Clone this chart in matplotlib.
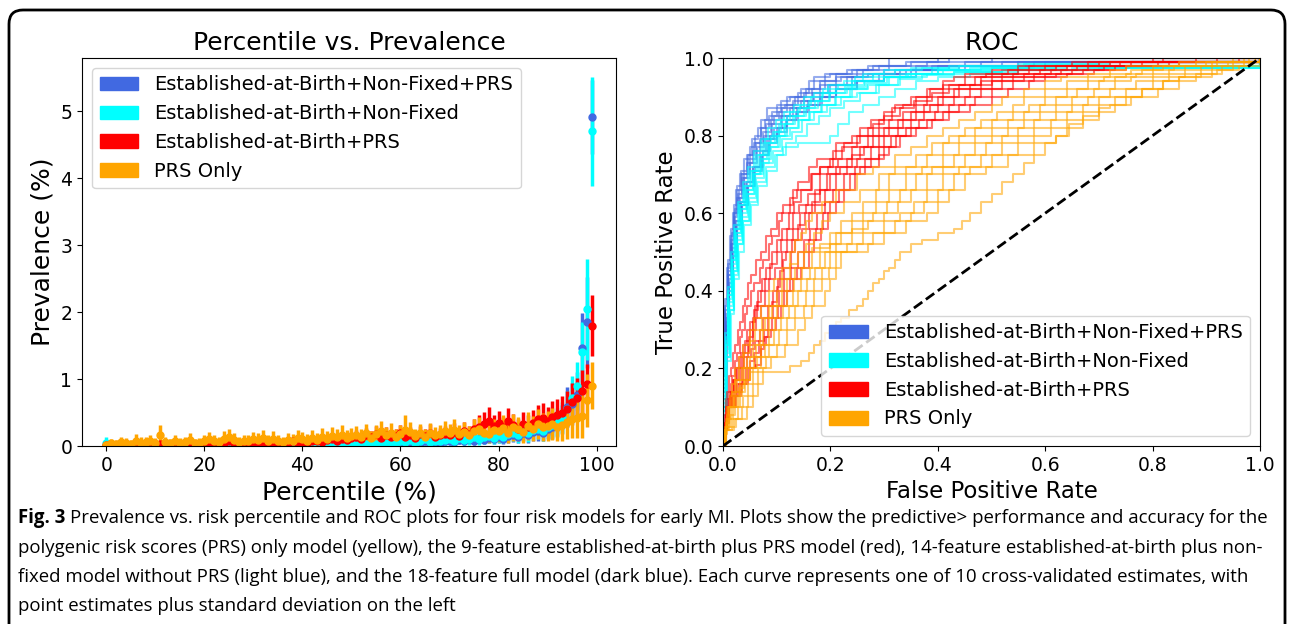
import matplotlib
matplotlib.use("Agg")
import matplotlib.pyplot as plt
from matplotlib.patches import Patch, FancyBboxPatch
from matplotlib.transforms import IdentityTransform

# model names / colours
models = ["Established-at-Birth+Non-Fixed+PRS", "Established-at-Birth+Non-Fixed",
          "Established-at-Birth+PRS", "PRS Only"]
colors = ["royalblue", "cyan", "red", "orange"]

# percentile vs prevalence (mean and std, percent), percentiles 0..99
percentile = list(range(100))
blue_mean = [.00, .00, .01, .00, .00, .00, .01, .00, .00, .01,
             .00, .00, .01, .00, .00, .00, .01, .00, .00, .00,
             .00, .01, .00, .00, .01, .00, .00, .01, .00, .00,
             .01, .00, .00, .01, .00, .01, .00, .00, .01, .00,
             .01, .01, .00, .01, .02, .01, .02, .01, .02, .01,
             .02, .01, .03, .02, .03, .02, .04, .03, .02, .04,
             .05, .04, .06, .03, .05, .07, .04, .06, .05, .07,
             .07, .06, .09, .08, .10, .08, .11, .09, .12, .10,
             .13, .11, .15, .17, .14, .19, .16, .21, .22, .20,
             .25, .28, .33, .40, .58, .63, .76, 1.46, 1.85, 4.92]
blue_std = [.01, .01, .01, .01, .01, .01, .01, .01, .01, .01,
            .01, .01, .01, .01, .01, .01, .01, .01, .01, .01,
            .01, .01, .01, .01, .01, .01, .01, .01, .01, .01,
            .01, .01, .01, .01, .01, .01, .01, .01, .01, .01,
            .01, .01, .01, .01, .02, .01, .02, .01, .02, .01,
            .02, .01, .03, .02, .03, .02, .03, .03, .02, .03,
            .04, .03, .04, .03, .04, .05, .03, .04, .04, .05,
            .05, .05, .06, .06, .07, .06, .07, .06, .08, .07,
            .09, .08, .10, .11, .09, .12, .11, .13, .14, .13,
            .15, .17, .19, .22, .30, .31, .35, .52, .68, .55]
cyan_mean = [.05, .00, .01, .00, .00, .01, .00, .00, .01, .00,
             .00, .01, .00, .00, .01, .00, .00, .01, .00, .00,
             .01, .00, .00, .01, .00, .01, .00, .00, .01, .00,
             .01, .00, .01, .00, .01, .01, .00, .01, .00, .01,
             .01, .02, .01, .02, .01, .02, .03, .02, .03, .02,
             .03, .02, .04, .03, .05, .03, .04, .06, .04, .05,
             .08, .06, .09, .05, .07, .10, .06, .08, .07, .09,
             .10, .08, .12, .09, .11, .14, .10, .13, .15, .12,
             .16, .14, .18, .20, .16, .22, .19, .24, .26, .23,
             .28, .32, .36, .42, .55, .72, .90, 1.40, 2.04, 4.70]
cyan_std = [.08, .01, .02, .01, .01, .02, .01, .01, .02, .01,
            .01, .02, .01, .01, .02, .01, .01, .02, .01, .01,
            .02, .01, .01, .02, .01, .02, .01, .01, .02, .01,
            .02, .01, .02, .01, .02, .02, .01, .02, .01, .02,
            .02, .03, .02, .03, .02, .03, .04, .03, .04, .03,
            .04, .03, .05, .04, .05, .04, .05, .06, .05, .05,
            .07, .06, .08, .05, .06, .08, .06, .07, .06, .08,
            .08, .07, .09, .08, .09, .10, .08, .10, .11, .09,
            .11, .10, .12, .13, .11, .14, .13, .15, .16, .15,
            .17, .19, .21, .23, .27, .32, .36, .45, .75, .82]
red_mean = [.01, .02, .01, .02, .03, .01, .04, .02, .05, .03,
            .02, .03, .05, .02, .03, .01, .04, .02, .03, .02,
            .04, .06, .03, .05, .04, .07, .05, .03, .06, .04,
            .05, .04, .06, .03, .05, .06, .04, .05, .07, .05,
            .06, .05, .08, .07, .06, .09, .10, .08, .11, .09,
            .12, .14, .11, .16, .13, .18, .12, .17, .14, .15,
            .19, .14, .17, .12, .18, .15, .20, .13, .16, .18,
            .16, .21, .15, .22, .18, .25, .29, .33, .38, .30,
            .34, .28, .37, .31, .26, .33, .29, .35, .40, .42,
            .38, .44, .46, .50, .55, .65, .72, .82, .93, 1.80]
red_std = [.03, .04, .03, .04, .04, .03, .05, .04, .06, .04,
           .04, .04, .06, .04, .04, .03, .05, .04, .04, .04,
           .05, .06, .04, .06, .05, .07, .06, .04, .06, .05,
           .06, .05, .06, .04, .06, .06, .05, .06, .07, .06,
           .06, .06, .08, .07, .06, .08, .09, .08, .10, .08,
           .09, .10, .08, .11, .09, .12, .09, .12, .10, .11,
           .13, .10, .12, .09, .12, .11, .13, .10, .11, .12,
           .11, .14, .11, .14, .12, .15, .17, .18, .20, .17,
           .19, .16, .20, .17, .15, .18, .17, .19, .21, .22,
           .21, .23, .24, .25, .27, .29, .30, .32, .30, .45]
orange_mean = [.02, .04, .03, .06, .05, .03, .08, .05, .06, .07,
               .05, .17, .06, .04, .07, .05, .06, .09, .04, .05,
               .07, .10, .08, .06, .11, .13, .09, .06, .08, .07,
               .10, .09, .12, .08, .11, .07, .06, .09, .08, .12,
               .10, .08, .12, .09, .14, .11, .15, .13, .16, .12,
               .15, .17, .14, .19, .12, .18, .22, .16, .20, .14,
               .18, .24, .21, .15, .19, .14, .20, .16, .18, .22,
               .19, .24, .18, .21, .17, .23, .26, .20, .18, .24,
               .22, .27, .19, .28, .25, .21, .30, .26, .33, .29,
               .30, .33, .28, .31, .36, .40, .42, .45, .68, .90]
orange_std = [.05, .07, .06, .08, .07, .06, .10, .08, .08, .09,
              .07, .15, .08, .07, .09, .07, .08, .10, .07, .07,
              .09, .11, .09, .08, .11, .12, .10, .08, .09, .09,
              .11, .10, .12, .09, .11, .09, .08, .10, .10, .12,
              .11, .10, .12, .10, .13, .11, .14, .12, .15, .12,
              .12, .13, .11, .14, .10, .14, .16, .12, .15, .11,
              .13, .22, .15, .11, .14, .11, .15, .12, .13, .16,
              .14, .17, .13, .15, .13, .17, .18, .15, .13, .17,
              .16, .19, .14, .20, .18, .16, .21, .19, .23, .21,
              .22, .24, .21, .23, .26, .28, .30, .33, .40, .35]

# ROC curves: 10 cross-validated folds per model, (fpr, tpr) corner points
roc_blue = [
    ([0, 0, .004, .008, .013, .018, .024, .031, .04, .05, .06, .07, .082, .1, .12, .14, .16, .19, .23, .27, .31, 1],
     [0, .18, .36, .46, .54, .6, .66, .7, .74, .77, .8, .84, .87, .88, .9, .91, .94, .96, .97, .98, 1, 1]),
    ([0, 0, .005, .009, .014, .02, .027, .035, .045, .055, .068, .08, .095, .11, .13, .15, .18, .21, .25, .3, .36, .45, 1],
     [0, .15, .33, .44, .52, .59, .64, .69, .73, .76, .79, .83, .85, .87, .89, .91, .93, .95, .96, .97, .98, .99, 1]),
    ([0, 0, .004, .01, .016, .022, .03, .04, .05, .062, .075, .09, .105, .12, .14, .165, .19, .22, .26, .31, .38, .5, 1],
     [0, .22, .35, .47, .55, .61, .66, .7, .74, .78, .81, .84, .86, .88, .9, .92, .94, .95, .97, .98, .99, 1, 1]),
    ([0, 0, .006, .011, .017, .024, .033, .043, .055, .068, .08, .095, .11, .13, .15, .17, .2, .24, .28, .33, .4, .55, 1],
     [0, .12, .3, .42, .5, .57, .63, .68, .72, .76, .79, .82, .85, .87, .89, .9, .93, .95, .96, .97, .98, .99, 1]),
    ([0, 0, .005, .01, .015, .021, .028, .036, .046, .058, .07, .085, .1, .115, .135, .155, .18, .21, .25, .29, .35, .42, 1],
     [0, .2, .34, .45, .53, .6, .65, .7, .75, .78, .82, .85, .87, .88, .9, .92, .94, .96, .97, .98, .99, 1, 1]),
    ([0, 0, .007, .012, .018, .026, .035, .046, .058, .072, .086, .1, .12, .14, .16, .185, .21, .25, .3, .36, .45, .6, 1],
     [0, .1, .28, .4, .49, .56, .62, .67, .71, .75, .78, .81, .84, .86, .88, .9, .92, .94, .95, .97, .98, .99, 1]),
    ([0, 0, .004, .009, .014, .02, .026, .034, .044, .054, .066, .078, .092, .108, .125, .145, .17, .2, .24, .28, .34, .4, 1],
     [0, .25, .38, .48, .56, .62, .67, .71, .75, .79, .82, .84, .86, .89, .9, .92, .95, .96, .97, .98, .99, 1, 1]),
    ([0, 0, .006, .012, .019, .027, .036, .047, .06, .074, .088, .104, .12, .138, .158, .18, .21, .245, .29, .34, .42, .52, 1],
     [0, .14, .3, .41, .5, .57, .62, .67, .72, .76, .8, .82, .85, .87, .89, .91, .93, .94, .96, .97, .98, .99, 1]),
    ([0, 0, .005, .01, .016, .023, .031, .04, .051, .063, .077, .092, .108, .125, .145, .168, .195, .23, .27, .32, .39, .48, 1],
     [0, .17, .32, .44, .52, .58, .64, .69, .73, .77, .8, .83, .85, .87, .89, .91, .93, .95, .96, .97, .98, .99, 1]),
    ([0, 0, .005, .011, .017, .025, .034, .044, .056, .07, .084, .1, .118, .136, .156, .18, .21, .25, .3, .35, .44, .58, 1],
     [0, .16, .31, .43, .51, .58, .63, .68, .72, .75, .79, .82, .84, .86, .88, .9, .92, .94, .96, .97, .98, .99, 1]),
]
roc_cyan = [
    ([0, 0, .005, .01, .016, .022, .03, .04, .05, .062, .075, .09, .105, .12, .14, .16, .185, .21, .24, .28, .33, .4, .5, .62, .8, 1],
     [0, .12, .27, .39, .48, .56, .62, .67, .71, .75, .78, .8, .83, .85, .87, .89, .91, .92, .94, .95, .96, .97, .975, .98, .98, 1]),
    ([0, 0, .006, .012, .019, .027, .036, .047, .06, .074, .09, .106, .124, .142, .162, .185, .21, .24, .27, .31, .36, .43, .52, .65, 1],
     [0, .1, .24, .36, .45, .53, .59, .65, .7, .74, .77, .8, .82, .84, .86, .88, .9, .92, .93, .95, .96, .965, .97, .975, 1]),
    ([0, 0, .004, .009, .015, .021, .028, .037, .047, .058, .07, .084, .098, .114, .132, .15, .17, .195, .225, .26, .3, .35, .42, .55, .7, 1],
     [0, .14, .29, .41, .5, .57, .63, .68, .72, .76, .79, .82, .84, .86, .88, .9, .91, .93, .94, .96, .97, .975, .98, .985, .99, 1]),
    ([0, 0, .006, .013, .02, .028, .038, .05, .064, .08, .096, .112, .14, .2, .215, .235, .26, .29, .32, .36, .4, .46, .55, .7, 1],
     [0, .09, .23, .35, .44, .52, .58, .63, .68, .72, .75, .77, .78, .8, .83, .86, .88, .9, .92, .94, .95, .96, .97, .975, 1]),
    ([0, 0, .005, .011, .017, .024, .033, .043, .055, .068, .082, .097, .113, .13, .15, .172, .198, .228, .262, .3, .345, .4, .48, .6, 1],
     [0, .11, .26, .38, .47, .55, .61, .66, .7, .74, .78, .81, .83, .85, .87, .89, .91, .93, .94, .95, .96, .97, .975, .98, 1]),
    ([0, 0, .007, .014, .021, .03, .04, .052, .066, .082, .1, .118, .136, .156, .178, .2, .226, .255, .29, .33, .38, .45, .55, .7, 1],
     [0, .08, .22, .34, .43, .5, .57, .62, .67, .71, .75, .78, .8, .83, .85, .87, .89, .91, .93, .95, .96, .965, .97, .975, 1]),
    ([0, 0, .005, .01, .016, .023, .031, .041, .052, .065, .078, .093, .108, .125, .144, .164, .187, .214, .245, .28, .32, .37, .44, .56, .72, 1],
     [0, .13, .28, .4, .49, .56, .62, .67, .71, .75, .79, .81, .84, .86, .88, .9, .92, .93, .95, .96, .97, .975, .98, .985, .99, 1]),
    ([0, 0, .006, .012, .018, .026, .035, .045, .057, .071, .086, .102, .12, .139, .16, .183, .208, .236, .268, .305, .35, .41, .5, .64, 1],
     [0, .1, .25, .37, .46, .54, .6, .65, .7, .73, .77, .8, .82, .84, .86, .88, .9, .92, .935, .95, .96, .97, .975, .98, 1]),
    ([0, 0, .005, .01, .017, .025, .034, .044, .056, .07, .085, .1, .116, .134, .154, .176, .2, .23, .265, .3, .34, .39, .46, .58, 1],
     [0, .12, .26, .39, .48, .55, .61, .66, .71, .75, .78, .8, .83, .85, .87, .89, .91, .925, .94, .95, .96, .97, .975, .98, 1]),
    ([0, 0, .006, .013, .02, .028, .038, .049, .062, .077, .093, .11, .128, .148, .17, .194, .22, .25, .285, .325, .37, .43, .52, .68, 1],
     [0, .09, .23, .35, .45, .52, .58, .64, .69, .73, .76, .79, .81, .84, .86, .88, .9, .91, .93, .945, .955, .965, .97, .975, 1]),
]
roc_red = [
    [(0, 0), (.001, .02), (.003, .06), (.004, .08), (.006, .12), (.008, .14), (.011, .18), (.014, .2), (.019, .24),
     (.022, .26), (.028, .3), (.032, .32), (.038, .36), (.041, .38), (.047, .42), (.052, .44), (.062, .48), (.07, .5),
     (.081, .54), (.09, .56), (.1, .6), (.112, .62), (.13, .66), (.14, .68), (.16, .72), (.175, .74), (.21, .78),
     (.24, .8), (.255, .82), (.275, .84), (.3, .86), (.32, .88), (.36, .9), (.38, .92), (.41, .94), (.43, .95),
     (.45, .96), (.5, .97), (.55, .98), (.65, .99), (.8, 1), (1, 1)],
    [(0, 0), (.003, .04), (.004, .06), (.006, .1), (.009, .12), (.014, .16), (.017, .18), (.023, .22), (.027, .24),
     (.032, .28), (.035, .3), (.041, .34), (.045, .36), (.052, .4), (.058, .42), (.068, .46), (.074, .48), (.085, .52),
     (.092, .54), (.104, .58), (.11, .6), (.125, .64), (.138, .66), (.165, .7), (.18, .72), (.205, .76), (.225, .78),
     (.255, .8), (.28, .83), (.3, .85), (.33, .87), (.355, .89), (.39, .91), (.42, .93), (.47, .95), (.5, .96),
     (.55, .97), (.6, .98), (.7, .99), (1, 1)],
    [(0, 0), (.002, .04), (.005, .08), (.007, .1), (.012, .14), (.018, .17), (.025, .2), (.03, .23), (.037, .26),
     (.045, .3), (.05, .32), (.057, .35), (.066, .4), (.072, .43), (.081, .46), (.092, .5), (.1, .53), (.11, .56),
     (.122, .6), (.132, .63), (.145, .66), (.163, .7), (.18, .72), (.2, .74), (.222, .77), (.25, .8), (.27, .82),
     (.29, .84), (.315, .87), (.335, .88), (.35, .9), (.385, .92), (.41, .93), (.45, .95), (.49, .96), (.53, .97),
     (.57, .98), (.68, .99), (.82, 1), (1, 1)],
    [(0, 0), (.001, .02), (.004, .06), (.008, .1), (.013, .13), (.02, .17), (.027, .2), (.034, .24), (.041, .27),
     (.05, .3), (.056, .33), (.063, .37), (.07, .4), (.078, .43), (.088, .47), (.1, .5), (.108, .53), (.119, .56),
     (.13, .6), (.142, .62), (.158, .65), (.18, .7), (.196, .72), (.215, .74), (.24, .77), (.27, .8), (.29, .82),
     (.31, .84), (.335, .86), (.36, .88), (.38, .9), (.41, .92), (.44, .93), (.48, .95), (.52, .96), (.57, .97),
     (.62, .98), (.72, .99), (1, 1)],
    [(0, 0), (.002, .03), (.005, .07), (.008, .1), (.014, .14), (.021, .17), (.03, .2), (.038, .23), (.046, .26),
     (.056, .3), (.062, .33), (.07, .36), (.078, .4), (.086, .43), (.097, .46), (.11, .5), (.12, .53), (.131, .56),
     (.143, .6), (.155, .62), (.172, .66), (.193, .7), (.21, .72), (.23, .74), (.255, .77), (.28, .8), (.3, .82),
     (.325, .84), (.35, .86), (.375, .88), (.4, .9), (.43, .92), (.46, .93), (.5, .95), (.54, .96), (.59, .97),
     (.64, .98), (.74, .99), (.88, 1), (1, 1)],
    [(0, 0), (.003, .04), (.006, .08), (.009, .1), (.016, .14), (.024, .17), (.034, .2), (.04, .24), (.048, .28),
     (.055, .32), (.06, .36), (.092, .37), (.1, .41), (.106, .45), (.112, .48), (.118, .5), (.128, .53), (.14, .57),
     (.152, .6), (.165, .63), (.18, .66), (.2, .7), (.218, .72), (.24, .75), (.262, .77), (.29, .8), (.31, .82),
     (.335, .84), (.36, .86), (.385, .88), (.41, .9), (.44, .92), (.48, .94), (.52, .95), (.56, .96), (.61, .97),
     (.66, .98), (.76, .99), (1, 1)],
    [(0, 0), (.002, .03), (.006, .07), (.01, .1), (.017, .13), (.026, .16), (.037, .2), (.045, .23), (.052, .25),
     (.06, .27), (.068, .3), (.074, .33), (.083, .36), (.094, .4), (.102, .43), (.113, .46), (.126, .5), (.135, .53),
     (.147, .56), (.16, .6), (.172, .62), (.19, .66), (.21, .7), (.23, .72), (.25, .74), (.275, .77), (.3, .8),
     (.325, .82), (.35, .84), (.375, .86), (.4, .88), (.43, .9), (.46, .92), (.5, .94), (.54, .95), (.58, .96),
     (.63, .97), (.68, .98), (.78, .99), (.92, 1), (1, 1)],
    [(0, 0), (.003, .04), (.007, .07), (.011, .1), (.02, .13), (.03, .16), (.042, .2), (.05, .22), (.058, .24),
     (.067, .27), (.076, .3), (.083, .33), (.093, .36), (.104, .4), (.114, .43), (.126, .46), (.14, .5), (.15, .53),
     (.162, .56), (.175, .6), (.19, .63), (.205, .66), (.226, .7), (.245, .72), (.265, .74), (.29, .77), (.313, .8),
     (.34, .82), (.365, .84), (.395, .86), (.42, .88), (.45, .9), (.48, .92), (.52, .94), (.56, .95), (.6, .96),
     (.65, .97), (.71, .98), (.81, .99), (1, 1)],
    [(0, 0), (.002, .02), (.006, .06), (.012, .1), (.022, .13), (.033, .16), (.046, .2), (.062, .21), (.07, .25),
     (.077, .28), (.083, .3), (.091, .33), (.102, .36), (.113, .4), (.124, .43), (.137, .46), (.151, .5), (.16, .53),
     (.173, .56), (.186, .6), (.2, .63), (.216, .66), (.237, .7), (.255, .72), (.275, .74), (.3, .77), (.322, .8),
     (.35, .82), (.38, .84), (.41, .86), (.44, .88), (.47, .9), (.5, .92), (.54, .94), (.58, .95), (.62, .96),
     (.67, .97), (.73, .98), (.83, .99), (.96, 1), (1, 1)],
    [(0, 0), (.003, .04), (.007, .07), (.012, .1), (.024, .14), (.036, .17), (.05, .2), (.06, .23), (.07, .26),
     (.08, .28), (.09, .3), (.098, .33), (.108, .36), (.12, .4), (.131, .43), (.145, .46), (.16, .5), (.17, .53),
     (.182, .56), (.195, .6), (.21, .63), (.225, .66), (.245, .7), (.265, .72), (.29, .75), (.31, .77), (.33, .8),
     (.36, .82), (.39, .84), (.42, .86), (.46, .88), (.5, .9), (.53, .92), (.57, .94), (.6, .95), (.64, .96),
     (.69, .97), (.75, .98), (.85, .99), (1, 1)],
]
roc_orange = [
    [(0, 0), (.002, .04), (.005, .07), (.008, .1), (.013, .13), (.017, .16), (.022, .2), (.03, .23), (.038, .26),
     (.05, .3), (.058, .33), (.07, .36), (.085, .4), (.095, .43), (.11, .46), (.125, .5), (.135, .53), (.145, .55),
     (.155, .58), (.165, .6), (.185, .63), (.21, .66), (.25, .7), (.28, .72), (.32, .75), (.35, .77), (.38, .8),
     (.41, .82), (.44, .84), (.47, .86), (.5, .88), (.52, .9), (.56, .92), (.6, .94), (.63, .95), (.68, .96),
     (.72, .97), (.75, .98), (.85, .99), (.95, 1), (1, 1)],
    [(0, 0), (.003, .05), (.007, .08), (.01, .1), (.016, .14), (.022, .17), (.03, .2), (.04, .24), (.05, .27),
     (.06, .3), (.072, .33), (.085, .36), (.1, .4), (.11, .43), (.125, .47), (.14, .5), (.155, .52), (.17, .55),
     (.185, .58), (.2, .6), (.225, .63), (.255, .66), (.29, .7), (.32, .72), (.36, .75), (.39, .78), (.42, .8),
     (.45, .82), (.48, .84), (.51, .86), (.54, .88), (.56, .9), (.6, .92), (.64, .94), (.68, .95), (.72, .96),
     (.76, .97), (.8, .98), (.88, .99), (1, 1)],
    [(0, 0), (.002, .03), (.007, .07), (.012, .1), (.02, .14), (.027, .17), (.035, .2), (.045, .23), (.055, .26),
     (.068, .3), (.078, .33), (.092, .36), (.11, .4), (.12, .43), (.135, .46), (.15, .5), (.165, .51), (.2, .55),
     (.22, .58), (.24, .6), (.26, .63), (.285, .66), (.31, .7), (.34, .72), (.38, .75), (.41, .78), (.44, .8),
     (.47, .82), (.5, .84), (.54, .86), (.57, .88), (.6, .9), (.64, .92), (.68, .94), (.71, .95), (.75, .96),
     (.78, .97), (.82, .98), (.9, .99), (.97, 1), (1, 1)],
    [(0, 0), (.003, .04), (.009, .07), (.015, .1), (.024, .14), (.032, .17), (.04, .2), (.05, .23), (.062, .26),
     (.075, .3), (.086, .33), (.1, .36), (.12, .4), (.132, .43), (.148, .46), (.165, .5), (.18, .52), (.22, .55),
     (.24, .58), (.26, .6), (.285, .63), (.31, .66), (.34, .7), (.37, .72), (.41, .75), (.44, .78), (.47, .8),
     (.5, .82), (.53, .84), (.56, .86), (.59, .88), (.62, .9), (.66, .92), (.7, .94), (.73, .95), (.77, .96),
     (.8, .97), (.84, .98), (.91, .99), (1, 1)],
    [(0, 0), (.004, .04), (.011, .07), (.018, .1), (.028, .13), (.036, .16), (.045, .2), (.058, .23), (.07, .26),
     (.085, .3), (.097, .33), (.112, .36), (.13, .4), (.145, .43), (.162, .46), (.18, .5), (.2, .52), (.24, .55),
     (.26, .58), (.28, .6), (.305, .63), (.33, .66), (.36, .7), (.39, .72), (.43, .75), (.47, .78), (.5, .8),
     (.53, .82), (.56, .84), (.59, .86), (.62, .88), (.65, .9), (.69, .92), (.73, .94), (.76, .95), (.8, .96),
     (.83, .97), (.86, .98), (.92, .99), (.98, 1), (1, 1)],
    [(0, 0), (.005, .05), (.013, .08), (.022, .1), (.032, .14), (.041, .17), (.05, .2), (.064, .23), (.078, .26),
     (.095, .3), (.108, .33), (.122, .36), (.14, .4), (.156, .43), (.172, .46), (.19, .5), (.21, .55), (.24, .56),
     (.27, .58), (.3, .6), (.325, .63), (.35, .66), (.38, .7), (.41, .72), (.45, .75), (.49, .78), (.52, .8),
     (.55, .82), (.58, .84), (.62, .86), (.65, .88), (.68, .9), (.72, .92), (.77, .94), (.8, .95), (.83, .96),
     (.86, .97), (.89, .98), (.94, .99), (1, 1)],
    [(0, 0), (.005, .04), (.016, .07), (.028, .1), (.038, .13), (.047, .16), (.056, .2), (.07, .23), (.086, .26),
     (.105, .3), (.12, .33), (.135, .36), (.155, .4), (.17, .43), (.185, .46), (.2, .5), (.23, .52), (.26, .55),
     (.3, .58), (.33, .6), (.355, .63), (.38, .66), (.41, .7), (.44, .72), (.48, .75), (.52, .78), (.55, .8),
     (.58, .82), (.61, .84), (.64, .86), (.67, .88), (.7, .9), (.75, .92), (.8, .94), (.83, .95), (.86, .96),
     (.89, .97), (.91, .98), (.95, .99), (.99, 1), (1, 1)],
    [(0, 0), (.006, .04), (.02, .07), (.035, .1), (.046, .13), (.055, .16), (.065, .2), (.08, .23), (.1, .26),
     (.12, .3), (.135, .33), (.15, .36), (.17, .4), (.185, .43), (.198, .46), (.21, .5), (.25, .52), (.28, .55),
     (.32, .58), (.35, .6), (.375, .63), (.4, .66), (.43, .7), (.46, .72), (.5, .75), (.55, .78), (.58, .8),
     (.61, .82), (.64, .84), (.67, .86), (.7, .88), (.73, .9), (.78, .92), (.82, .94), (.85, .95), (.88, .96),
     (.91, .97), (.93, .98), (.97, .99), (1, 1)],
    [(0, 0), (.006, .05), (.025, .07), (.045, .1), (.055, .13), (.065, .16), (.075, .2), (.09, .23), (.115, .26),
     (.14, .3), (.152, .33), (.165, .36), (.19, .4), (.2, .43), (.21, .46), (.22, .5), (.27, .52), (.3, .55),
     (.34, .58), (.38, .6), (.4, .63), (.42, .66), (.45, .7), (.49, .72), (.53, .75), (.58, .78), (.62, .8),
     (.64, .82), (.67, .84), (.7, .86), (.73, .88), (.76, .9), (.81, .92), (.85, .94), (.88, .95), (.91, .96),
     (.93, .97), (.95, .98), (.98, .99), (1, 1)],
    [(0, 0), (.002, .03), (.006, .06), (.012, .1), (.02, .13), (.03, .15), (.04, .17), (.05, .19), (.125, .205),
     (.145, .22), (.16, .24), (.17, .26), (.18, .27), (.19, .29), (.2, .3), (.21, .32), (.22, .33), (.235, .35),
     (.25, .36), (.26, .38), (.27, .4), (.28, .42), (.29, .43), (.3, .45), (.31, .46), (.32, .48), (.33, .5),
     (.35, .52), (.37, .53), (.4, .55), (.43, .56), (.445, .58), (.46, .6), (.48, .63), (.5, .65), (.52, .68),
     (.54, .7), (.56, .73), (.58, .75), (.6, .78), (.62, .8), (.645, .83), (.67, .85), (.7, .87), (.72, .88),
     (.75, .9), (.78, .92), (.82, .94), (.85, .95), (.89, .96), (.92, .97), (.96, .98), (1, 1)],
]

caption_bold = "Fig. 3"
caption_lines = [
    "Prevalence vs. risk percentile and ROC plots for four risk models for early MI. Plots show the predictive> performance and accuracy for the",
    "polygenic risk scores (PRS) only model (yellow), the 9-feature established-at-birth plus PRS model (red), 14-feature established-at-birth plus non-",
    "fixed model without PRS (light blue), and the 18-feature full model (dark blue). Each curve represents one of 10 cross-validated estimates, with",
    "point estimates plus standard deviation on the left",
]

W, H = 1292, 624
fig = plt.figure(figsize=(W / 100, H / 100), dpi=100)

# ---- left: percentile vs prevalence
ax1 = fig.add_axes([82 / W, 1 - 446 / H, 534 / W, 388 / H])
series = [(blue_mean, blue_std), (cyan_mean, cyan_std),
          (red_mean, red_std), (orange_mean, orange_std)]
for (m, s), c in zip(series, colors):
    ax1.errorbar(percentile, m, yerr=s, fmt="o", color=c, markersize=5,
                 elinewidth=2.5, capsize=0)
ax1.set_ylim(bottom=0)
ax1.set_title("Percentile vs. Prevalence", fontsize=18)
ax1.set_xlabel("Percentile (%)", fontsize=18)
ax1.set_ylabel("Prevalence (%)", fontsize=18)
ax1.tick_params(labelsize=13.5)
ax1.legend(handles=[Patch(color=c, label=l) for c, l in zip(colors, models)],
           loc="upper left", fontsize=14)

# ---- right: ROC
ax2 = fig.add_axes([723 / W, 1 - 446 / H, 537 / W, 388 / H])
for f, t in roc_blue:
    ax2.plot(f, t, drawstyle="steps-post", color=colors[0], alpha=0.55, lw=1.5)
for f, t in roc_cyan:
    ax2.plot(f, t, drawstyle="steps-post", color=colors[1], alpha=0.55, lw=1.5)
for pts in roc_red:
    f, t = zip(*pts)
    ax2.plot(f, t, drawstyle="steps-post", color=colors[2], alpha=0.55, lw=1.5)
for pts in roc_orange:
    f, t = zip(*pts)
    ax2.plot(f, t, drawstyle="steps-post", color=colors[3], alpha=0.55, lw=1.5)
ax2.plot([0, 1], [0, 1], "k--", lw=2)
ax2.set_xlim(0, 1)
ax2.set_ylim(0, 1)
ax2.set_title("ROC", fontsize=18)
ax2.set_xlabel("False Positive Rate", fontsize=16.5)
ax2.set_ylabel("True Positive Rate", fontsize=16.5)
ax2.tick_params(labelsize=13.5)
ax2.legend(handles=[Patch(color=c, label=l) for c, l in zip(colors, models)],
           loc="lower right", fontsize=14)

# ---- caption and frame
cap_font = ["Open Sans", "DejaVu Sans"]
cap_size = 13.4
line_y = [518, 548, 577, 606]
t0 = fig.text(18 / W, 1 - line_y[0] / H, caption_bold, family=cap_font,
              fontsize=cap_size, weight="bold", va="center")
r = fig.canvas.get_renderer()
x_after = t0.get_window_extent(r).x1 + 5
fig.text(x_after / W, 1 - line_y[0] / H, caption_lines[0], family=cap_font,
         fontsize=cap_size, va="center")
for txt, y in zip(caption_lines[1:], line_y[1:]):
    fig.text(18 / W, 1 - y / H, txt, family=cap_font, fontsize=cap_size, va="center")

frame = FancyBboxPatch((9, -40), 1276, H - 10 + 40, boxstyle="round,pad=0,rounding_size=14",
                       transform=IdentityTransform(), fill=False, lw=2, ec="black")
fig.patches.append(frame)

fig.savefig("out.png", dpi=100)
